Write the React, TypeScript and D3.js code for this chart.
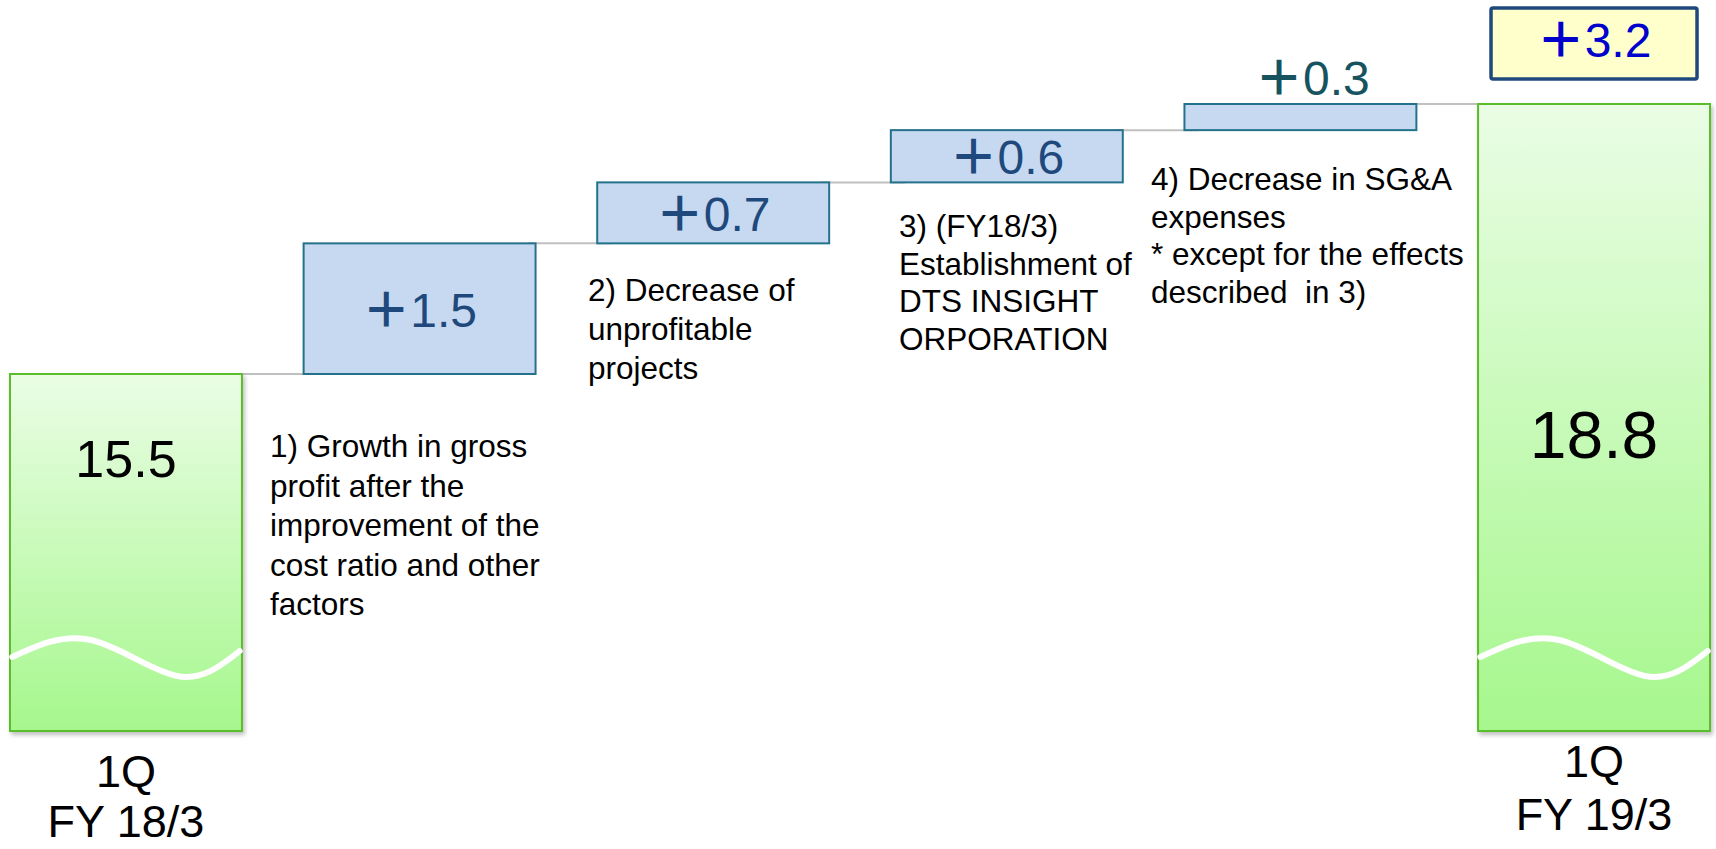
import * as d3 from 'd3';

// categories along the bridge
const categories = ['1Q FY 18/3', '1)', '2)', '3)', '4)', '1Q FY 19/3'];
const startValue = 15.5;
const endValue = 18.8;
const deltas = [1.5, 0.7, 0.6, 0.3];
const deltaLabels = ['1.5', '0.7', '0.6', '0.3'];
const totalChangeLabel = '3.2';
const periodLabels = [
  ['1Q', 'FY 18/3'],
  ['1Q', 'FY 19/3'],
];
const notes = [
  ['1) Growth in gross', 'profit after the', 'improvement of the', 'cost ratio and other', 'factors'],
  ['2) Decrease of', 'unprofitable', 'projects'],
  ['3) (FY18/3)', 'Establishment of', 'DTS INSIGHT', 'ORPORATION'],
  ['4) Decrease in SG&A', 'expenses', '* except for the effects', 'described  in 3)'],
];

const W = 1716;
const H = 849;
const baseY = 731; // broken axis: bars end here
const FONT = '"Liberation Sans", Arial, Helvetica, sans-serif';

// where each note block starts: x, first baseline, line height
const notePos = [
  [270, 457, 39.5],
  [588, 301, 39],
  [899, 237, 37.7],
  [1151, 190, 37.7],
];

export default function App() {
  // cumulative levels
  const levels = [startValue];
  deltas.forEach(d => levels.push(levels[levels.length - 1] + d));
  const top = levels[levels.length - 1];

  const x = d3.scaleBand<string>()
    .domain(categories)
    .range([10, 1710])
    .paddingInner(0.21)
    .paddingOuter(0);
  const bw = x.bandwidth();

  const y = d3.scaleLinear()
    .domain([startValue, top])
    .range([374, 104]);

  const wave = d3.line<[number, number]>()
    .x(d => d[0] * bw)
    .y(d => d[1])
    .curve(d3.curveNatural);
  const wavePts: [number, number][] = [[0.01, -74], [0.35, -91], [0.72, -55], [0.99, -80]];

  const steps = deltas.map((d, i) => ({
    cat: categories[i + 1],
    y0: y(levels[i]),
    y1: y(levels[i + 1]),
    label: deltaLabels[i],
  }));

  // connector segments between consecutive bars
  const connectors = levels.map((v, i) => ({
    x1: x(categories[i])! + bw - 8,
    x2: x(categories[i + 1])! + 14,
    y: y(v),
  }));

  const ends = [
    { cat: categories[0], yTop: y(startValue), value: startValue, size: 52, ly: 477, labels: periodLabels[0], py: [787, 837] },
    { cat: categories[5], yTop: y(top), value: endValue, size: 66, ly: 458, labels: periodLabels[1], py: [777, 830] },
  ];

  const finalCx = x(categories[5])! + bw / 2;

  return (
    <svg width={W} height={H} style={{ position: 'absolute', left: 0, top: 0, background: '#fff' }} fontFamily={FONT}>
      <defs>
        <linearGradient id="greenFill" x1="0" y1="0" x2="0" y2="1">
          <stop offset="0%" stopColor="#EAFDE5" />
          <stop offset="100%" stopColor="#A6F78D" />
        </linearGradient>
        <filter id="shadow" x="-10%" y="-10%" width="120%" height="120%">
          <feDropShadow dx="2" dy="3" stdDeviation="2" floodColor="#000" floodOpacity="0.25" />
        </filter>
      </defs>

      {/* connectors */}
      {connectors.map((c, i) => (
        <line key={i} x1={c.x1} x2={c.x2} y1={c.y} y2={c.y} stroke="#C0C0C0" strokeWidth={2} />
      ))}

      {/* start / end totals */}
      {ends.map((e, i) => {
        const bx = x(e.cat)!;
        const cx = bx + bw / 2;
        return (
          <g key={i}>
            <rect x={bx} y={e.yTop} width={bw} height={baseY - e.yTop}
              fill="url(#greenFill)" stroke="#5CBD2B" strokeWidth={2} filter="url(#shadow)" />
            <path d={wave(wavePts) ?? ''} transform={`translate(${bx},${baseY})`}
              fill="none" stroke="#fff" strokeWidth={6} strokeLinecap="round" />
            <text x={cx} y={e.ly} textAnchor="middle" fontSize={e.size} fill="#000">
              {e.value.toFixed(1)}
            </text>
            {e.labels.map((t, j) => (
              <text key={j} x={cx} y={e.py[j]} textAnchor="middle" fontSize={45} fill="#000">{t}</text>
            ))}
          </g>
        );
      })}

      {/* increments */}
      {steps.map((s, i) => {
        const bx = x(s.cat)!;
        const h = s.y0 - s.y1;
        const inside = h > 40;
        const cx = bx + bw / 2 + (inside ? 0 : 12);
        const ty = inside ? (s.y0 + s.y1) / 2 + 18 : s.y1 - 9;
        return (
          <g key={i}>
            <rect x={bx} y={s.y1} width={bw} height={h} fill="#C6D9F0" stroke="#24718C" strokeWidth={2} />
            <text x={cx} y={ty} textAnchor="middle" fontSize={48} fill={inside ? '#1F497D' : '#17535F'}>
              <tspan fontFamily='"Noto Sans CJK JP"' fontWeight={700}>＋</tspan>
              <tspan>{s.label}</tspan>
            </text>
          </g>
        );
      })}

      {/* total change badge */}
      <rect x={finalCx - 103} y={8} width={206} height={71} rx={2} fill="#FFFFCC" stroke="#1F497D" strokeWidth={3.5} />
      <text x={finalCx} y={57} textAnchor="middle" fontSize={48} fill="#0000CC">
        <tspan fontFamily='"Noto Sans CJK JP"' fontWeight={700}>＋</tspan>
        <tspan>{totalChangeLabel}</tspan>
      </text>

      {/* explanatory notes */}
      {notes.map((lines, i) => (
        <text key={i} fontSize={31.5} fill="#000" style={{ whiteSpace: 'pre' }}>
          {lines.map((t, j) => (
            <tspan key={j} x={notePos[i][0]} y={notePos[i][1] + j * notePos[i][2]}>{t}</tspan>
          ))}
        </text>
      ))}
    </svg>
  );
}
